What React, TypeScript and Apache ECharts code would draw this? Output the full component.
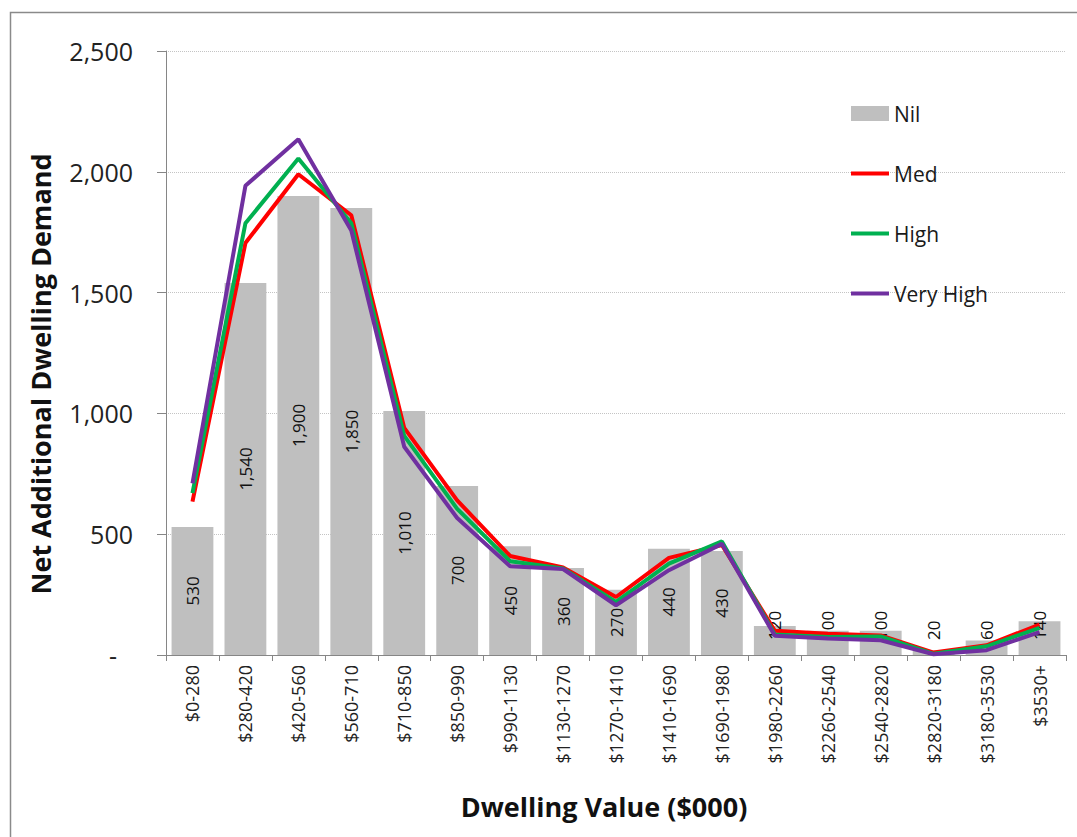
import React, { useEffect, useRef } from "react";
import * as echarts from "echarts";

const categories = [
  "$0-280", "$280-420", "$420-560", "$560-710", "$710-850", "$850-990",
  "$990-1130", "$1130-1270", "$1270-1410", "$1410-1690", "$1690-1980",
  "$1980-2260", "$2260-2540", "$2540-2820", "$2820-3180", "$3180-3530", "$3530+",
];
const nilValues = [530, 1540, 1900, 1850, 1010, 700, 450, 360, 270, 440, 430, 120, 100, 100, 20, 60, 140];
const medValues = [635, 1705, 1990, 1820, 940, 640, 410, 362, 240, 402, 455, 100, 88, 81, 10, 40, 126];
const highValues = [670, 1787, 2055, 1787, 907, 605, 388, 358, 220, 378, 470, 85, 75, 77, 5, 36, 112];
const veryHighValues = [710, 1942, 2135, 1757, 862, 567, 367, 356, 206, 351, 460, 80, 68, 61, 3, 20, 95];
const yTicks = { min: 0, max: 2500, interval: 500 };

const FONT = "'Open Sans', 'Noto Sans', sans-serif";
const fmt = (v: number) => v.toLocaleString("en-US");
const LINE_ICON = "path://M0,0H40V4H0Z";

export default function App() {
  const ref = useRef<HTMLDivElement>(null);
  useEffect(() => {
    if (!ref.current) return;
    const chart = echarts.init(ref.current, undefined, { renderer: "svg" });
    const nilData = nilValues.map((v) =>
      v < 200
        ? {
            value: v,
            label: {
              position: "insideBottom",
              distance: 15,
              align: "left",
              verticalAlign: "middle",
            },
          }
        : { value: v }
    );
    const lineSeries = (name: string, data: number[], color: string) => ({
      name,
      type: "line",
      data,
      symbol: "none",
      lineStyle: { color, width: 4 },
      itemStyle: { color },
      z: 3,
    });
    chart.setOption({
      animation: false,
      backgroundColor: "#ffffff",
      grid: { left: 166, right: 11, top: 51, bottom: 182, containLabel: false },
      legend: {
        orient: "vertical",
        left: 846,
        top: 98,
        itemWidth: 38,
        itemHeight: 15,
        itemGap: 39,
        textStyle: { fontFamily: FONT, fontSize: 21, color: "#1a1a1a", lineHeight: 21, padding: [0, 0, 0, 0] },
        data: [
          { name: "Nil", icon: "rect" },
          { name: "Med", icon: LINE_ICON },
          { name: "High", icon: LINE_ICON },
          { name: "Very High", icon: LINE_ICON },
        ],
      },
      xAxis: {
        type: "category",
        data: categories,
        boundaryGap: true,
        axisLine: { show: true, lineStyle: { color: "#868686", width: 1 } },
        axisTick: { show: true, length: 6, lineStyle: { color: "#868686" } },
        axisLabel: {
          rotate: 90,
          interval: 0,
          margin: 10,
          fontFamily: FONT,
          fontSize: 18,
          color: "#222222",
        },
      },
      yAxis: {
        type: "value",
        min: yTicks.min,
        max: yTicks.max,
        interval: yTicks.interval,
        axisLine: { show: true, lineStyle: { color: "#868686", width: 1 } },
        axisTick: { show: true, length: 9, lineStyle: { color: "#868686" } },
        splitLine: { show: true, lineStyle: { color: "#c4c4c4", type: "dotted", width: 1 } },
        axisLabel: {
          margin: 33,
          fontFamily: FONT,
          fontSize: 25,
          color: "#222222",
          formatter: (v: number) => (v === 0 ? "{dash|-}" : fmt(v)),
          rich: { dash: { fontFamily: FONT, fontSize: 25, color: "#222222", padding: [0, 16, 0, 0] } },
        },
      },
      graphic: [
        {
          type: "rect",
          shape: { x: 10.5, y: 12.5, width: 1100, height: 900 },
          style: { fill: "none", stroke: "#8a8a8a", lineWidth: 1.5 },
          silent: true,
        },
        {
          type: "text",
          x: 40,
          y: 374,
          rotation: Math.PI / 2,
          style: {
            text: "Net Additional Dwelling Demand",
            fontFamily: FONT,
            fontWeight: "bold",
            fontSize: 27,
            fill: "#111111",
            align: "center",
            verticalAlign: "middle",
          },
        },
        {
          type: "text",
          x: 604,
          y: 806,
          style: {
            text: "Dwelling Value ($000)",
            fontFamily: FONT,
            fontWeight: "bold",
            fontSize: 27,
            fill: "#111111",
            align: "center",
            verticalAlign: "middle",
          },
        },
      ],
      series: [
        {
          name: "Nil",
          type: "bar",
          data: nilData,
          barCategoryGap: "21%",
          itemStyle: { color: "#bfbfbf" },
          label: {
            show: true,
            position: "inside",
            rotate: 90,
            fontFamily: FONT,
            fontSize: 17,
            color: "#111111",
            formatter: (p: any) => fmt(p.value),
          },
          z: 2,
        },
        lineSeries("Med", medValues, "#ff0000"),
        lineSeries("High", highValues, "#00b050"),
        lineSeries("Very High", veryHighValues, "#7030a0"),
      ],
    });
    return () => chart.dispose();
  }, []);
  return (
    <div
      ref={ref}
      style={{ position: "fixed", left: 0, top: 0, width: 1077, height: 837 }}
    />
  );
}
